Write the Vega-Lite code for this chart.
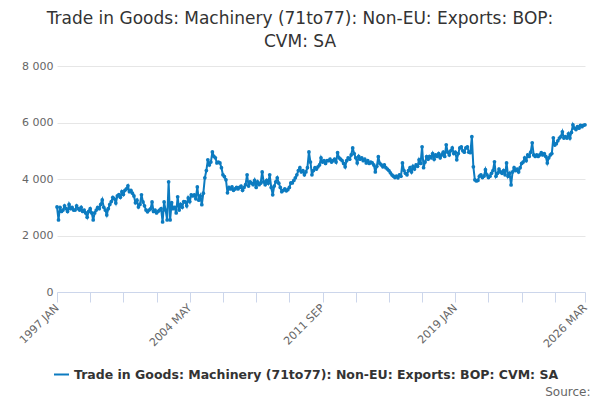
{
  "$schema": "https://vega.github.io/schema/vega-lite/v6.json",
  "width": 528,
  "height": 226,
  "autosize": "none",
  "padding": {"left": 57, "top": 66, "right": 15, "bottom": 108},
  "background": "white",
  "config": {"font": "DejaVu Sans", "view": {"stroke": null}},
  "title": {
    "text": ["Trade in Goods: Machinery (71to77): Non-EU: Exports: BOP:", "CVM: SA"],
    "anchor": "middle",
    "frame": "group",
    "dx": -21,
    "offset": 9,
    "fontSize": 17,
    "fontWeight": "normal",
    "color": "#333333",
    "lineHeight": 23
  },
  "data": {
    "values": [
      {"month": "1997 JAN", "value": 3010}, {"month": "1997 FEB", "value": 2550}, {"month": "1997 MAR", "value": 3000}, {"month": "1997 APR", "value": 2850}, {"month": "1997 MAY", "value": 2900}, {"month": "1997 JUN", "value": 3050}, {"month": "1997 JUL", "value": 2950}, {"month": "1997 AUG", "value": 2850}, {"month": "1997 SEP", "value": 3100}, {"month": "1997 OCT", "value": 2950}, {"month": "1997 NOV", "value": 3000}, {"month": "1997 DEC", "value": 2900},
      {"month": "1998 JAN", "value": 2900}, {"month": "1998 FEB", "value": 3050}, {"month": "1998 MAR", "value": 2950}, {"month": "1998 APR", "value": 2900}, {"month": "1998 MAY", "value": 3000}, {"month": "1998 JUN", "value": 2850}, {"month": "1998 JUL", "value": 2900}, {"month": "1998 AUG", "value": 2800}, {"month": "1998 SEP", "value": 2650}, {"month": "1998 OCT", "value": 2850}, {"month": "1998 NOV", "value": 2950}, {"month": "1998 DEC", "value": 2800},
      {"month": "1999 JAN", "value": 2550}, {"month": "1999 FEB", "value": 2800}, {"month": "1999 MAR", "value": 2900}, {"month": "1999 APR", "value": 3000}, {"month": "1999 MAY", "value": 2950}, {"month": "1999 JUN", "value": 3100}, {"month": "1999 JUL", "value": 3260}, {"month": "1999 AUG", "value": 3000}, {"month": "1999 SEP", "value": 2900}, {"month": "1999 OCT", "value": 2730}, {"month": "1999 NOV", "value": 2950}, {"month": "1999 DEC", "value": 3100},
      {"month": "2000 JAN", "value": 3200}, {"month": "2000 FEB", "value": 3350}, {"month": "2000 MAR", "value": 3300}, {"month": "2000 APR", "value": 3150}, {"month": "2000 MAY", "value": 3400}, {"month": "2000 JUN", "value": 3450}, {"month": "2000 JUL", "value": 3350}, {"month": "2000 AUG", "value": 3550}, {"month": "2000 SEP", "value": 3450}, {"month": "2000 OCT", "value": 3600}, {"month": "2000 NOV", "value": 3650}, {"month": "2000 DEC", "value": 3760},
      {"month": "2001 JAN", "value": 3550}, {"month": "2001 FEB", "value": 3600}, {"month": "2001 MAR", "value": 3500}, {"month": "2001 APR", "value": 3400}, {"month": "2001 MAY", "value": 3160}, {"month": "2001 JUN", "value": 3250}, {"month": "2001 JUL", "value": 3010}, {"month": "2001 AUG", "value": 3100}, {"month": "2001 SEP", "value": 3440}, {"month": "2001 OCT", "value": 3190}, {"month": "2001 NOV", "value": 3050}, {"month": "2001 DEC", "value": 2900},
      {"month": "2002 JAN", "value": 2840}, {"month": "2002 FEB", "value": 2900}, {"month": "2002 MAR", "value": 2940}, {"month": "2002 APR", "value": 3190}, {"month": "2002 MAY", "value": 2850}, {"month": "2002 JUN", "value": 2900}, {"month": "2002 JUL", "value": 2800}, {"month": "2002 AUG", "value": 2850}, {"month": "2002 SEP", "value": 2900}, {"month": "2002 OCT", "value": 2950}, {"month": "2002 NOV", "value": 2480}, {"month": "2002 DEC", "value": 3190},
      {"month": "2003 JAN", "value": 2900}, {"month": "2003 FEB", "value": 2550}, {"month": "2003 MAR", "value": 3900}, {"month": "2003 APR", "value": 2550}, {"month": "2003 MAY", "value": 3160}, {"month": "2003 JUN", "value": 2950}, {"month": "2003 JUL", "value": 3000}, {"month": "2003 AUG", "value": 2800}, {"month": "2003 SEP", "value": 3370}, {"month": "2003 OCT", "value": 2900}, {"month": "2003 NOV", "value": 3100}, {"month": "2003 DEC", "value": 3000},
      {"month": "2004 JAN", "value": 3200}, {"month": "2004 FEB", "value": 3190}, {"month": "2004 MAR", "value": 3050}, {"month": "2004 APR", "value": 3330}, {"month": "2004 MAY", "value": 3200}, {"month": "2004 JUN", "value": 3440}, {"month": "2004 JUL", "value": 3400}, {"month": "2004 AUG", "value": 3440}, {"month": "2004 SEP", "value": 3300}, {"month": "2004 OCT", "value": 3720}, {"month": "2004 NOV", "value": 3250}, {"month": "2004 DEC", "value": 3400},
      {"month": "2005 JAN", "value": 3090}, {"month": "2005 FEB", "value": 3500}, {"month": "2005 MAR", "value": 4040}, {"month": "2005 APR", "value": 4300}, {"month": "2005 MAY", "value": 4680}, {"month": "2005 JUN", "value": 4500}, {"month": "2005 JUL", "value": 4600}, {"month": "2005 AUG", "value": 4960}, {"month": "2005 SEP", "value": 4800}, {"month": "2005 OCT", "value": 4750}, {"month": "2005 NOV", "value": 4570}, {"month": "2005 DEC", "value": 4600},
      {"month": "2006 JAN", "value": 4570}, {"month": "2006 FEB", "value": 4400}, {"month": "2006 MAR", "value": 4150}, {"month": "2006 APR", "value": 4080}, {"month": "2006 MAY", "value": 3970}, {"month": "2006 JUN", "value": 3510}, {"month": "2006 JUL", "value": 3700}, {"month": "2006 AUG", "value": 3650}, {"month": "2006 SEP", "value": 3720}, {"month": "2006 OCT", "value": 3600}, {"month": "2006 NOV", "value": 3650}, {"month": "2006 DEC", "value": 3700},
      {"month": "2007 JAN", "value": 3650}, {"month": "2007 FEB", "value": 3700}, {"month": "2007 MAR", "value": 3750}, {"month": "2007 APR", "value": 3600}, {"month": "2007 MAY", "value": 3700}, {"month": "2007 JUN", "value": 3800}, {"month": "2007 JUL", "value": 4150}, {"month": "2007 AUG", "value": 3750}, {"month": "2007 SEP", "value": 3900}, {"month": "2007 OCT", "value": 3850}, {"month": "2007 NOV", "value": 3800}, {"month": "2007 DEC", "value": 3950},
      {"month": "2008 JAN", "value": 3700}, {"month": "2008 FEB", "value": 3900}, {"month": "2008 MAR", "value": 3800}, {"month": "2008 APR", "value": 3850}, {"month": "2008 MAY", "value": 4250}, {"month": "2008 JUN", "value": 3900}, {"month": "2008 JUL", "value": 3800}, {"month": "2008 AUG", "value": 3950}, {"month": "2008 SEP", "value": 3850}, {"month": "2008 OCT", "value": 4150}, {"month": "2008 NOV", "value": 3700}, {"month": "2008 DEC", "value": 3440},
      {"month": "2009 JAN", "value": 3750}, {"month": "2009 FEB", "value": 3900}, {"month": "2009 MAR", "value": 4040}, {"month": "2009 APR", "value": 3850}, {"month": "2009 MAY", "value": 3700}, {"month": "2009 JUN", "value": 3550}, {"month": "2009 JUL", "value": 3600}, {"month": "2009 AUG", "value": 3650}, {"month": "2009 SEP", "value": 3580}, {"month": "2009 OCT", "value": 3620}, {"month": "2009 NOV", "value": 3700}, {"month": "2009 DEC", "value": 3860},
      {"month": "2010 JAN", "value": 3860}, {"month": "2010 FEB", "value": 3950}, {"month": "2010 MAR", "value": 4040}, {"month": "2010 APR", "value": 4150}, {"month": "2010 MAY", "value": 4300}, {"month": "2010 JUN", "value": 4400}, {"month": "2010 JUL", "value": 4250}, {"month": "2010 AUG", "value": 4300}, {"month": "2010 SEP", "value": 4150}, {"month": "2010 OCT", "value": 4250}, {"month": "2010 NOV", "value": 4400}, {"month": "2010 DEC", "value": 4960},
      {"month": "2011 JAN", "value": 4600}, {"month": "2011 FEB", "value": 4150}, {"month": "2011 MAR", "value": 4300}, {"month": "2011 APR", "value": 4400}, {"month": "2011 MAY", "value": 4350}, {"month": "2011 JUN", "value": 4430}, {"month": "2011 JUL", "value": 4500}, {"month": "2011 AUG", "value": 4750}, {"month": "2011 SEP", "value": 4600}, {"month": "2011 OCT", "value": 4650}, {"month": "2011 NOV", "value": 4550}, {"month": "2011 DEC", "value": 4650},
      {"month": "2012 JAN", "value": 4650}, {"month": "2012 FEB", "value": 4700}, {"month": "2012 MAR", "value": 4600}, {"month": "2012 APR", "value": 4650}, {"month": "2012 MAY", "value": 4700}, {"month": "2012 JUN", "value": 4600}, {"month": "2012 JUL", "value": 4930}, {"month": "2012 AUG", "value": 4750}, {"month": "2012 SEP", "value": 4700}, {"month": "2012 OCT", "value": 4650}, {"month": "2012 NOV", "value": 4550}, {"month": "2012 DEC", "value": 4430},
      {"month": "2013 JAN", "value": 4650}, {"month": "2013 FEB", "value": 4750}, {"month": "2013 MAR", "value": 4700}, {"month": "2013 APR", "value": 4850}, {"month": "2013 MAY", "value": 5100}, {"month": "2013 JUN", "value": 4900}, {"month": "2013 JUL", "value": 4750}, {"month": "2013 AUG", "value": 4570}, {"month": "2013 SEP", "value": 4800}, {"month": "2013 OCT", "value": 4700}, {"month": "2013 NOV", "value": 4750}, {"month": "2013 DEC", "value": 4650},
      {"month": "2014 JAN", "value": 4700}, {"month": "2014 FEB", "value": 4570}, {"month": "2014 MAR", "value": 4650}, {"month": "2014 APR", "value": 4550}, {"month": "2014 MAY", "value": 4600}, {"month": "2014 JUN", "value": 4570}, {"month": "2014 JUL", "value": 4500}, {"month": "2014 AUG", "value": 4250}, {"month": "2014 SEP", "value": 4450}, {"month": "2014 OCT", "value": 4790}, {"month": "2014 NOV", "value": 4550}, {"month": "2014 DEC", "value": 4500},
      {"month": "2015 JAN", "value": 4430}, {"month": "2015 FEB", "value": 4500}, {"month": "2015 MAR", "value": 4400}, {"month": "2015 APR", "value": 4350}, {"month": "2015 MAY", "value": 4300}, {"month": "2015 JUN", "value": 4220}, {"month": "2015 JUL", "value": 4150}, {"month": "2015 AUG", "value": 4100}, {"month": "2015 SEP", "value": 4050}, {"month": "2015 OCT", "value": 4100}, {"month": "2015 NOV", "value": 4040}, {"month": "2015 DEC", "value": 4150},
      {"month": "2016 JAN", "value": 4100}, {"month": "2016 FEB", "value": 4570}, {"month": "2016 MAR", "value": 4300}, {"month": "2016 APR", "value": 4200}, {"month": "2016 MAY", "value": 4150}, {"month": "2016 JUN", "value": 4300}, {"month": "2016 JUL", "value": 4400}, {"month": "2016 AUG", "value": 4250}, {"month": "2016 SEP", "value": 4450}, {"month": "2016 OCT", "value": 4350}, {"month": "2016 NOV", "value": 4500}, {"month": "2016 DEC", "value": 4450},
      {"month": "2017 JAN", "value": 4680}, {"month": "2017 FEB", "value": 4550}, {"month": "2017 MAR", "value": 5140}, {"month": "2017 APR", "value": 4400}, {"month": "2017 MAY", "value": 4600}, {"month": "2017 JUN", "value": 4790}, {"month": "2017 JUL", "value": 4700}, {"month": "2017 AUG", "value": 4800}, {"month": "2017 SEP", "value": 4750}, {"month": "2017 OCT", "value": 4900}, {"month": "2017 NOV", "value": 4700}, {"month": "2017 DEC", "value": 4850},
      {"month": "2018 JAN", "value": 4800}, {"month": "2018 FEB", "value": 4900}, {"month": "2018 MAR", "value": 4750}, {"month": "2018 APR", "value": 4850}, {"month": "2018 MAY", "value": 4950}, {"month": "2018 JUN", "value": 4800}, {"month": "2018 JUL", "value": 5210}, {"month": "2018 AUG", "value": 4950}, {"month": "2018 SEP", "value": 4850}, {"month": "2018 OCT", "value": 5000}, {"month": "2018 NOV", "value": 5100}, {"month": "2018 DEC", "value": 4900},
      {"month": "2019 JAN", "value": 4950}, {"month": "2019 FEB", "value": 4680}, {"month": "2019 MAR", "value": 4900}, {"month": "2019 APR", "value": 5100}, {"month": "2019 MAY", "value": 5140}, {"month": "2019 JUN", "value": 5000}, {"month": "2019 JUL", "value": 4950}, {"month": "2019 AUG", "value": 5100}, {"month": "2019 SEP", "value": 5140}, {"month": "2019 OCT", "value": 4950}, {"month": "2019 NOV", "value": 4930}, {"month": "2019 DEC", "value": 5500},
      {"month": "2020 JAN", "value": 4430}, {"month": "2020 FEB", "value": 3970}, {"month": "2020 MAR", "value": 3930}, {"month": "2020 APR", "value": 3950}, {"month": "2020 MAY", "value": 4100}, {"month": "2020 JUN", "value": 4150}, {"month": "2020 JUL", "value": 4050}, {"month": "2020 AUG", "value": 4100}, {"month": "2020 SEP", "value": 4330}, {"month": "2020 OCT", "value": 4150}, {"month": "2020 NOV", "value": 4050}, {"month": "2020 DEC", "value": 4100},
      {"month": "2021 JAN", "value": 4200}, {"month": "2021 FEB", "value": 4300}, {"month": "2021 MAR", "value": 4610}, {"month": "2021 APR", "value": 4100}, {"month": "2021 MAY", "value": 4200}, {"month": "2021 JUN", "value": 4350}, {"month": "2021 JUL", "value": 4250}, {"month": "2021 AUG", "value": 4200}, {"month": "2021 SEP", "value": 4300}, {"month": "2021 OCT", "value": 4150}, {"month": "2021 NOV", "value": 4570}, {"month": "2021 DEC", "value": 4100},
      {"month": "2022 JAN", "value": 4200}, {"month": "2022 FEB", "value": 3790}, {"month": "2022 MAR", "value": 4250}, {"month": "2022 APR", "value": 4400}, {"month": "2022 MAY", "value": 4300}, {"month": "2022 JUN", "value": 4350}, {"month": "2022 JUL", "value": 4250}, {"month": "2022 AUG", "value": 4400}, {"month": "2022 SEP", "value": 4550}, {"month": "2022 OCT", "value": 4600}, {"month": "2022 NOV", "value": 4750}, {"month": "2022 DEC", "value": 4650},
      {"month": "2023 JAN", "value": 4850}, {"month": "2023 FEB", "value": 4800}, {"month": "2023 MAR", "value": 4950}, {"month": "2023 APR", "value": 5280}, {"month": "2023 MAY", "value": 4850}, {"month": "2023 JUN", "value": 4800}, {"month": "2023 JUL", "value": 4850}, {"month": "2023 AUG", "value": 4800}, {"month": "2023 SEP", "value": 4850}, {"month": "2023 OCT", "value": 4930}, {"month": "2023 NOV", "value": 4850}, {"month": "2023 DEC", "value": 4900},
      {"month": "2024 JAN", "value": 4800}, {"month": "2024 FEB", "value": 4570}, {"month": "2024 MAR", "value": 4750}, {"month": "2024 APR", "value": 4850}, {"month": "2024 MAY", "value": 4900}, {"month": "2024 JUN", "value": 5460}, {"month": "2024 JUL", "value": 5200}, {"month": "2024 AUG", "value": 5250}, {"month": "2024 SEP", "value": 5350}, {"month": "2024 OCT", "value": 5450}, {"month": "2024 NOV", "value": 5500}, {"month": "2024 DEC", "value": 5670},
      {"month": "2025 JAN", "value": 5450}, {"month": "2025 FEB", "value": 5500}, {"month": "2025 MAR", "value": 5450}, {"month": "2025 APR", "value": 5600}, {"month": "2025 MAY", "value": 5450}, {"month": "2025 JUN", "value": 5650}, {"month": "2025 JUL", "value": 5920}, {"month": "2025 AUG", "value": 5800}, {"month": "2025 SEP", "value": 5750}, {"month": "2025 OCT", "value": 5850}, {"month": "2025 NOV", "value": 5800}, {"month": "2025 DEC", "value": 5900},
      {"month": "2026 JAN", "value": 5850}, {"month": "2026 FEB", "value": 5900}, {"month": "2026 MAR", "value": 5920}
    ]
  },
  "mark": {
    "type": "line",
    "strokeWidth": 2,
    "point": {"filled": true, "size": 14}
  },
  "encoding": {
    "x": {
      "field": "month",
      "type": "ordinal",
      "sort": null,
      "scale": {"type": "point", "padding": 0},
      "axis": {
        "values": ["1997 JAN", "1998 NOV", "2000 SEP", "2002 JUL", "2004 MAY", "2006 MAR", "2008 JAN", "2009 NOV", "2011 SEP", "2013 JUL", "2015 MAY", "2017 MAR", "2019 JAN", "2020 NOV", "2022 SEP", "2024 JUL", "2026 MAR"],
        "labelExpr": "indexof(['1997 JAN', '2004 MAY', '2011 SEP', '2019 JAN', '2026 MAR'], datum.value) >= 0 ? datum.value : ''",
        "labelAngle": -45,
        "labelAlign": "right",
        "labelBaseline": "middle",
        "labelPadding": 4,
        "labelColor": "#666666",
        "labelFontSize": 11,
        "domainColor": "#ccd6eb",
        "tickColor": "#ccd6eb",
        "tickSize": 10,
        "grid": false,
        "title": "Source:",
        "titleFontWeight": "normal",
        "titleFontSize": 12,
        "titleColor": "#666666",
        "titleAlign": "right",
        "titleAnchor": null,
        "titleX": 533,
        "titleY": 99,
        "titleBaseline": "middle"
      }
    },
    "y": {
      "field": "value",
      "type": "quantitative",
      "scale": {"domain": [0, 8000]},
      "axis": {
        "values": [0, 2000, 4000, 6000, 8000],
        "labelExpr": "replace(format(datum.value, ','), ',', ' ')",
        "domain": false,
        "ticks": false,
        "labelPadding": 4,
        "labelColor": "#666666",
        "labelFontSize": 11,
        "gridColor": "#e6e6e6",
        "title": null
      }
    },
    "color": {
      "datum": "Trade in Goods: Machinery (71to77): Non-EU: Exports: BOP: CVM: SA",
      "type": "nominal",
      "scale": {"range": ["#0c7bc0"]},
      "legend": {
        "title": null,
        "orient": "none",
        "legendX": -4,
        "legendY": 300,
        "symbolType": "stroke",
        "symbolSize": 225,
        "symbolStrokeWidth": 2,
        "labelFontWeight": "bold",
        "labelFontSize": 12.5,
        "labelColor": "#333333",
        "labelLimit": 600
      }
    }
  }
}
